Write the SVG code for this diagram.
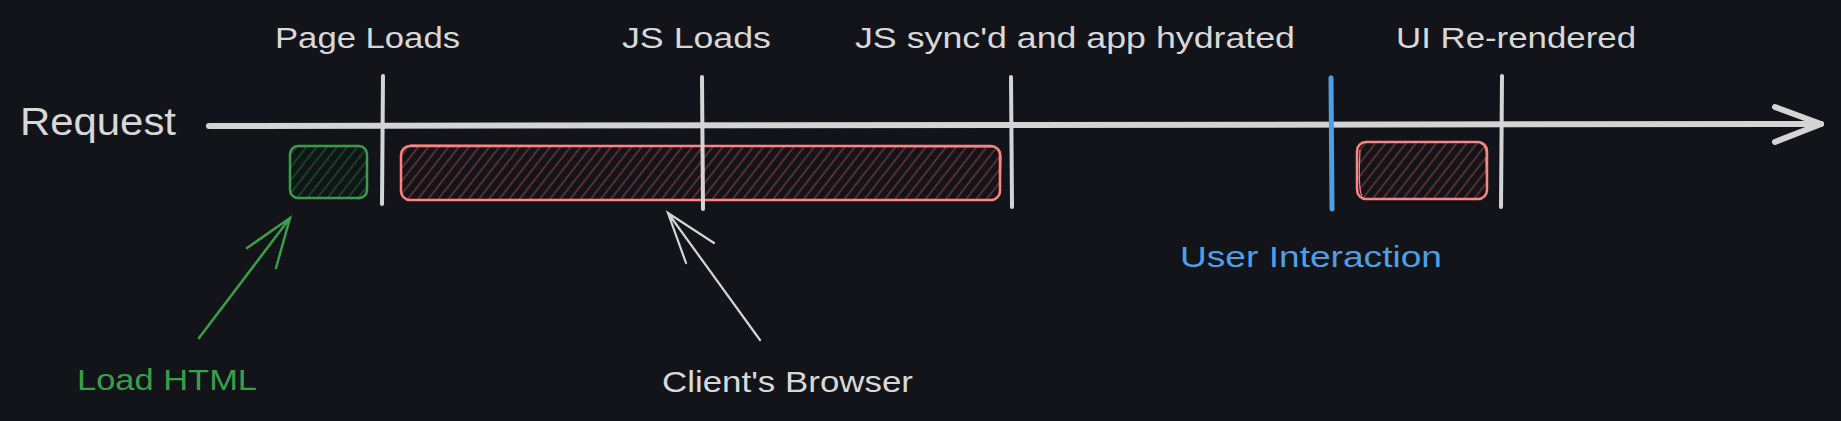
<svg xmlns="http://www.w3.org/2000/svg" width="1841" height="421" viewBox="0 0 1841 421">
<defs>
<style>
.lbl{font-family:"Liberation Sans","DejaVu Sans",sans-serif;font-size:30px;fill:#d8d8d8}
.big{font-size:38px}
.grn{fill:#3a9e48}
.blu{fill:#4ea0e4}
.tick{stroke:#d4d4d4;stroke-width:4;stroke-linecap:round;fill:none}
.line{stroke:#d4d4d4;fill:none;stroke-linecap:round;stroke-linejoin:round}
.gbox{stroke:#3a9e48;stroke-width:2.5;fill:url(#hg)}
.rbox{stroke:#ff8383;stroke-width:2.5;fill:url(#hr)}
.rbox2{stroke:#ff8383;stroke-width:1.2;fill:none}
</style>
<pattern id="hg" patternUnits="userSpaceOnUse" width="8" height="8" patternTransform="rotate(38)">
<line x1="4" y1="0" x2="4" y2="8" stroke="#0f5220" stroke-width="1.6"/>
</pattern>
<pattern id="hr" patternUnits="userSpaceOnUse" width="8" height="8" patternTransform="rotate(38)">
<line x1="4" y1="0" x2="4" y2="8" stroke="#6a3232" stroke-width="1.6"/>
</pattern>
</defs>
<rect width="1841" height="421" fill="#121419"/>

<g id="load-html">
<rect class="gbox" x="290" y="146" width="77" height="52" rx="8"/>
<text class="lbl grn" x="77" y="390" textLength="180" lengthAdjust="spacingAndGlyphs">Load HTML</text>
</g>
<g id="client-browser">
<rect class="rbox" x="401" y="146" width="599" height="54" rx="9"/>
<path class="rbox2" d="M410 145 L994 147 Q1001 148 1001 156 L1000 194"/>
<text class="lbl" x="662" y="392" textLength="251" lengthAdjust="spacingAndGlyphs">Client's Browser</text>
</g>
<g id="rerender-box">
<rect class="rbox" x="1357" y="142" width="130" height="57" rx="9"/>
<path class="rbox2" d="M1362 196 Q1358 190 1360 150 M1480 143 Q1488 146 1486 160 L1487 192"/>
</g>

<g id="connectors">
<path class="line" stroke-width="6" d="M209 126 L1000 125 L1821 124"/>
<path class="line" stroke-width="6" d="M1775 107 L1821 124 L1775 142"/>
<path d="M199 338 L290 218 M247 248 L290 218 L276 268" fill="none" stroke="#3a9e48" stroke-width="2.5" stroke-linecap="round"/>
<path d="M760 340 L668 213 M714 243 L668 213 L686 263" fill="none" stroke="#d4d4d4" stroke-width="2.2" stroke-linecap="round"/>
</g>

<g id="request"><text class="lbl big" x="20" y="135" textLength="156" lengthAdjust="spacingAndGlyphs">Request</text></g>

<g id="tick-page-loads">
<path class="tick" d="M383 76 L382 204"/>
<text class="lbl" x="275" y="48" textLength="185" lengthAdjust="spacingAndGlyphs">Page Loads</text>
</g>
<g id="tick-js-loads">
<path class="tick" d="M702 77 L703 209"/>
<text class="lbl" x="622" y="48" textLength="149" lengthAdjust="spacingAndGlyphs">JS Loads</text>
</g>
<g id="tick-hydrated">
<path class="tick" d="M1011 77 L1012 207"/>
<text class="lbl" x="855" y="48" textLength="440" lengthAdjust="spacingAndGlyphs">JS sync'd and app hydrated</text>
</g>
<g id="tick-user-interaction">
<path d="M1331 78 L1332 209" stroke="#4ea0e4" stroke-width="5" stroke-linecap="round"/>
<text class="lbl blu" x="1180" y="267" textLength="262" lengthAdjust="spacingAndGlyphs">User Interaction</text>
</g>
<g id="tick-rerendered">
<path class="tick" d="M1502 76 L1501 207"/>
<text class="lbl" x="1396" y="48" textLength="240" lengthAdjust="spacingAndGlyphs">UI Re-rendered</text>
</g>
</svg>
